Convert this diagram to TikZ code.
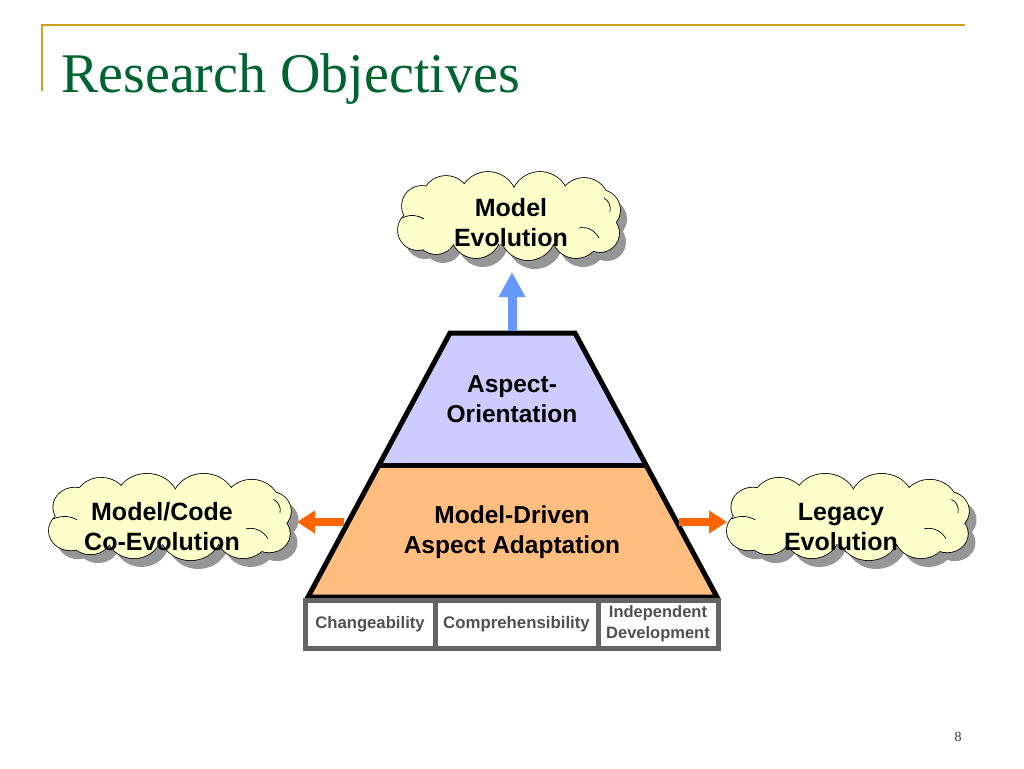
\documentclass[tikz,border=0pt]{standalone}
\usepackage{fontspec}
\setmainfont{Liberation Serif}
\setsansfont{Liberation Sans}
\usetikzlibrary{arrows.meta}
\definecolor{titlegreen}{RGB}{0,100,50}
\definecolor{goldline}{RGB}{204,160,30}
\definecolor{cloudfill}{RGB}{255,255,204}
\definecolor{lavender}{RGB}{204,204,255}
\definecolor{peach}{RGB}{255,190,128}
\definecolor{arrowblue}{RGB}{102,153,255}
\definecolor{arroworange}{RGB}{255,102,0}
\definecolor{boxgray}{RGB}{100,100,100}
\definecolor{textgray}{RGB}{80,80,80}
\definecolor{shadowgray}{RGB}{150,150,150}
\newcommand{\cloudpuffs}{
  (-88,-10) circle[radius=20] (-92,14) circle[radius=20]
  (-64,-16) circle[radius=24] (-22,-15) circle[radius=29]
  (30,-15) circle[radius=29] (74,-13) circle[radius=25]
  (90,-6) circle[radius=20] (90,17) circle[radius=19]
  (66,18) circle[radius=24] (18,16) circle[radius=28]
  (-34,17) circle[radius=25] (-74,18) circle[radius=20]}
\newcommand{\drawcloud}[4]{%
  \begin{scope}[shift={(#1,#2)}, xscale=#3, yscale=#4]
    \begin{scope}[shift={(7,9)}]
      \fill[shadowgray] \cloudpuffs;
    \end{scope}
    \draw[black, line width=1.6pt] \cloudpuffs;
    \fill[cloudfill] \cloudpuffs (0,0) ellipse[x radius=85, y radius=28];
    \draw[curl] (-108,2) .. controls (-100,-2) and (-92,-1) .. (-86,3);
    \draw[curl] (69,12) .. controls (78,10) and (85,15) .. (89,22);
    \draw[curl] (94,-18) .. controls (99,-15) and (101,-10) .. (100,-4);
  \end{scope}}
\tikzset{
  cloudtext/.style={font=\sffamily\bfseries\fontsize{25}{30}\selectfont, align=center, inner sep=0pt},
  curl/.style={draw=black, line width=0.7pt},
  pyrtext/.style={font=\sffamily\bfseries\fontsize{24.5}{30}\selectfont, align=center},
  basebox/.style={draw=boxgray, line width=5pt, fill=white, minimum height=48pt,
    inner sep=0pt, text=textgray, align=center},
  bluearrow/.style={draw=arrowblue, line width=9pt, -{Triangle[width=25pt,length=25pt]}},
  orangearrow/.style={draw=arroworange, line width=8pt, -{Triangle[width=22pt,length=18pt]}},
  pyrline/.style={draw=black, line width=5pt, line join=miter},
}
\begin{document}
\begin{tikzpicture}[x=1pt,y=-1pt]
\useasboundingbox[fill=white] (0,0) rectangle (1024,768);
% title decoration
\draw[goldline, line width=2pt] (42,91) -- (42,25) -- (965,25);
\node[anchor=base west, inner sep=0pt, text=titlegreen, font=\fontsize{56}{62}\selectfont] (title) at (61,92) {Research Objectives};
% pyramid
\coordinate (tl) at (450,333);
\coordinate (tr) at (575,333);
\coordinate (ml) at (379.5,465);
\coordinate (mr) at (645.5,465);
\coordinate (bl) at (308,597);
\coordinate (br) at (717,597);
\fill[lavender] (tl) -- (tr) -- (mr) -- (ml) -- cycle;
\fill[peach] (ml) -- (mr) -- (br) -- (bl) -- cycle;
\draw[pyrline] (tl) -- (tr) -- (br) -- (bl) -- cycle;
\draw[pyrline] (ml) -- (mr);
\node[pyrtext] (ao) at (512,399) {Aspect-\\Orientation};
\node[pyrtext] (mdaa) at (512,532) {Model-Driven\\Aspect Adaptation};
% base boxes
\node[basebox, minimum width=130pt, font=\sffamily\bfseries\fontsize{16.7}{20}\selectfont] (chg) at (370,624) {Changeability};
\node[basebox, minimum width=163pt, font=\sffamily\bfseries\fontsize{16.8}{20}\selectfont] (comp) at (516.5,624) {Comprehensibility};
\node[basebox, minimum width=120pt, font=\sffamily\bfseries\fontsize{16.5}{21}\selectfont] (indep) at (658,624) {Independent\\Development};
% arrows
\coordinate (topc) at (512,331);
\coordinate (topend) at (512,272);
\coordinate (leftc) at (344,522);
\coordinate (leftend) at (297,522);
\coordinate (rightc) at (679,522);
\coordinate (rightend) at (727,522);
\draw[bluearrow] (topc) -- (topend);
\draw[orangearrow] (leftc) -- (leftend);
\draw[orangearrow] (rightc) -- (rightend);
% clouds
\drawcloud{510}{216}{1}{1}
\drawcloud{171}{517}{1.09}{0.98}
\drawcloud{849}{517}{1.09}{0.98}
\node[cloudtext] (metext) at (511,223) {Model\\Evolution};
\node[cloudtext] (mcctext) at (162,527) {Model/Code\\Co-Evolution};
\node[cloudtext] (letext) at (841,527) {Legacy\\Evolution};
% page number
\node[font=\fontsize{14}{16}\selectfont, text=black!80] (pg) at (958,737) {8};
\end{tikzpicture}
\end{document}
